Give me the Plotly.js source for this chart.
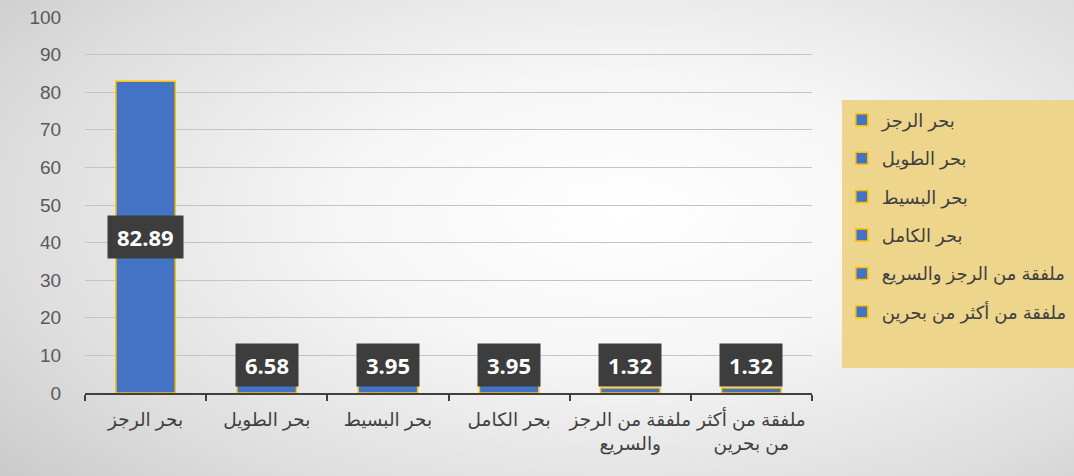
<!DOCTYPE html>
<html>
<head>
<meta charset="utf-8">
<script src="https://cdn.plot.ly/plotly-3.0.1.min.js"></script>
<style>
html, body { margin: 0; padding: 0; }
#wrap {
  width: 1074px; height: 476px; position: relative; overflow: hidden;
  background: radial-gradient(ellipse 75% 85% at 58% 45%, #ffffff 0%, #f6f6f6 35%, #dedede 75%, #cbcbcb 100%);
}
#chart { width: 1074px; height: 476px; }
</style>
</head>
<body>
<div id="wrap"><div id="chart"></div></div>
<script>
// Data
const categories = ["بحر الرجز", "بحر الطويل", "بحر البسيط", "بحر الكامل", "ملفقة من الرجز والسريع", "ملفقة من أكثر من بحرين"];
const tickLabels = ["بحر الرجز", "بحر الطويل", "بحر البسيط", "بحر الكامل", "ملفقة من الرجز<br>والسريع", "ملفقة من أكثر<br>من بحرين"];
const values = [82.89, 6.58, 3.95, 3.95, 1.32, 1.32];
const yTicks = [0, 10, 20, 30, 40, 50, 60, 70, 80, 90, 100];

const barColor = "#4472C4";
const edgeColor = "#FFC000";

const traces = categories.map((c, i) => ({
  type: "bar",
  x: [c],
  y: [values[i]],
  name: c,
  legendgroup: "g" + i,
  width: 0.49,
  marker: { color: barColor, line: { color: edgeColor, width: 1.5 } },
  hoverinfo: "x+y"
}));

const annotations = categories.map((c, i) => ({
  x: c,
  y: Math.max(values[i] / 2, 7.45),
  xref: "x", yref: "y",
  text: "<b>" + values[i].toFixed(2) + "</b>",
  showarrow: false,
  font: { family: "Open Sans, Liberation Sans, sans-serif", size: 22, color: "#ffffff" },
  bgcolor: "#3d3d3d",
  borderpad: 9,
  height: 24
}));

const layout = {
  width: 1074, height: 476,
  paper_bgcolor: "rgba(0,0,0,0)",
  plot_bgcolor: "rgba(0,0,0,0)",
  margin: { l: 85, r: 262, t: 17, b: 83, autoexpand: false },
  barmode: "overlay",
  showlegend: true,
  font: { family: "Liberation Sans, Arial, DejaVu Sans, sans-serif", color: "#404040" },
  xaxis: {
    type: "category",
    categoryorder: "array",
    categoryarray: categories,
    tickvals: categories,
    ticktext: tickLabels,
    tickangle: 0,
    showline: true, linecolor: "#404040", linewidth: 2,
    ticks: "outside", tickson: "boundaries", ticklen: 6, tickwidth: 2, tickcolor: "#404040",
    ticklabelstandoff: 9,
    tickfont: { size: 18.5, color: "#404040", family: "Liberation Sans, Arial, DejaVu Sans, sans-serif" },
    showgrid: false, zeroline: false, fixedrange: true
  },
  yaxis: {
    range: [0, 100],
    tickvals: yTicks,
    showline: false, zeroline: false,
    showgrid: true, gridcolor: "#c4c4c4", gridwidth: 1,
    ticks: "outside", ticklen: 19, tickcolor: "rgba(0,0,0,0)",
    tickfont: { size: 19, color: "#595959", family: "Liberation Sans, Arial, sans-serif" },
    fixedrange: true
  },
  legend: {
    x: 1.041, xanchor: "left",
    y: 0.775, yanchor: "top",
    bgcolor: "rgba(0,0,0,0)",
    font: { size: 18, color: "#404040", family: "Liberation Sans, Arial, DejaVu Sans, sans-serif" },
    tracegroupgap: 12,
    itemclick: false, itemdoubleclick: false
  },
  shapes: [{
    type: "rect", xref: "paper", yref: "paper",
    x0: 1.0413, x1: 1.37, y0: 0.0665, y1: 0.779,
    fillcolor: "#eed58c", line: { width: 0 }, layer: "below"
  }],
  annotations: annotations
};

Plotly.newPlot("chart", traces, layout, { displayModeBar: false, staticPlot: true });
</script>
</body>
</html>
